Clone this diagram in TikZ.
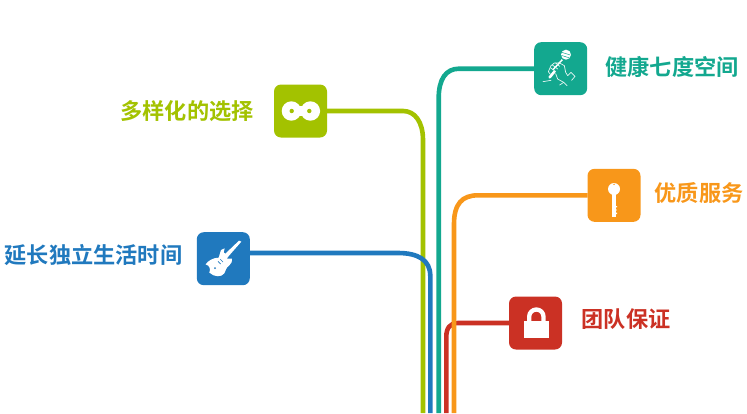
\documentclass[tikz,border=0pt]{standalone}
\usepackage{fontspec}
\setmainfont{Noto Sans CJK SC}[BoldFont={Noto Sans CJK SC Bold}]
\definecolor{cgreen}{HTML}{A3C200}
\definecolor{cteal}{HTML}{13A88F}
\definecolor{cblue}{HTML}{2079BE}
\definecolor{corange}{HTML}{F8971A}
\definecolor{cred}{HTML}{CB3124}
\tikzset{
  iconbox/.style={rounded corners=7pt,minimum width=53pt,minimum height=53pt,inner sep=0pt,outer sep=0pt},
  wire/.style={line width=4.6pt,line join=round},
  lbl/.style={font=\fontsize{22.2pt}{24pt}\selectfont,inner sep=0pt,anchor=center},
  ico/.style={fill=white,draw=none},
  thinline/.style={draw=white!90!cteal,line width=0.7pt,fill=none,line cap=round,line join=round}
}
\begin{document}
\begin{tikzpicture}[x=1pt,y=-1pt]
\useasboundingbox (0,0) rectangle (747,413);
\node[iconbox,fill=cgreen] (g) at (300.5,111) {};
\node[iconbox,fill=cteal] (t) at (560.7,68.7) {};
\node[iconbox,fill=cblue] (b) at (223.3,258.7) {};
\node[iconbox,fill=corange] (o) at (614,195.3) {};
\node[iconbox,fill=cred] (r) at (535.5,323) {};
\coordinate (gb) at (423,413);
\coordinate (bb) at (430.3,413);
\coordinate (tb) at (438.7,413);
\coordinate (rb) at (446.3,413);
\coordinate (ob) at (454,413);
% connectors
\draw[wire,cred] (r.west) -- (458,323) .. controls (450,323) and (446.3,328) .. (446.3,337) -- (rb);
\draw[wire,corange] (o.west) -- (478,195.3) .. controls (462,195.3) and (454,204) .. (454,224) -- (ob);
\draw[wire,cgreen] (g.east) -- (403,111) .. controls (415,111) and (423,122) .. (423,140) -- (gb);
\draw[wire,cblue] ([yshift=5.7pt]b.east) -- (398,253) .. controls (418,253) and (430.3,260) .. (430.3,276) -- (bb);
\draw[wire,cteal] (t.west) -- (459,68.7) .. controls (446,68.7) and (438.7,79) .. (438.7,98) -- (tb);
% infinity icon
\fill[ico] (291.4,111) circle (9.7) (310.4,111) circle (9.7);
\fill[ico] (291.4,106) rectangle (310.4,116);
\fill[cgreen] (291.7,111) circle (2.2) (309.3,111) circle (2.2);
% guitar icon
\begin{scope}[shift={(180,220)},scale=1/3]
\fill[ico] (184,65) -- (177,62) -- (136,101) -- (131,97) -- (134,85) -- (123,90) -- (116,113)
  .. controls (100,113) and (84,122) .. (77,133)
  .. controls (90,137) and (92,148) .. (88,158)
  .. controls (104,172) and (124,172) .. (133,160)
  .. controls (138,150) and (138,143) .. (148,136)
  .. controls (156,130) and (156,124) .. (156,116)
  -- (140,116) -- (148,106) -- cycle;
\fill[cblue] (105,144) circle (3);
\draw[cblue,line width=0.7pt] (114,124) -- (122,132) (121,118) -- (129,126);
\end{scope}
% microphone icon
\begin{scope}[shift={(525,35)},scale=1/3]
\fill[ico] (123,59) circle (15);
\draw[cteal,line width=0.5pt] (110,52) -- (136,60) (109,61) -- (134,69);
\draw[white,line width=1.5pt] (112,74) -- (84,104);
\draw[white,line width=2.6pt,line cap=round] (88,110) -- (74,127);
\draw[thinline] (70,110) -- (78,92) -- (88,84) -- (104,84) (70,110) -- (76,118);
\draw[thinline] (76,98) -- (92,110) (82,90) -- (98,102) (92,84) -- (104,94);
\draw[thinline] (104,84) -- (118,92) -- (122,112) -- (128,122) -- (138,112) -- (150,124) -- (140,136);
\draw[thinline] (92,116) -- (98,132) -- (116,142) -- (126,152);
\draw[thinline] (54,140) -- (78,136) (116,142) -- (104,150);
\end{scope}
% key icon
\begin{scope}[shift={(580,160)},scale=1/3]
\fill[ico] (102,87) circle (18);
\fill[ico] (97,95) rectangle (107,171);
\fill[ico] (107,138) rectangle (111,142) (107,148) rectangle (110,152) (107,158) rectangle (111,162);
\fill[corange] (102,73) circle (2.5);
\end{scope}
% lock icon
\begin{scope}[shift={(400,250)},scale=1/3]
\fill[ico] (371,212) rectangle (447,263);
\draw[white,line width=4.3pt] (387.5,214) -- (387.5,200) arc[start angle=180,end angle=360,radius=21.5] -- (430.5,214);
\end{scope}
% labels
\node[lbl,text=cteal] (tl) at (672,67) {\textbf{健康七度空间}};
\node[lbl,text=cgreen] (gl) at (187,111) {\textbf{多样化的选择}};
\node[lbl,text=cblue] (bl) at (93.5,255) {\textbf{延长独立生活时间}};
\node[lbl,text=corange] (ol) at (699,193) {\textbf{优质服务}};
\node[lbl,text=cred] (rl) at (626,319) {\textbf{团队保证}};
\end{tikzpicture}
\end{document}
